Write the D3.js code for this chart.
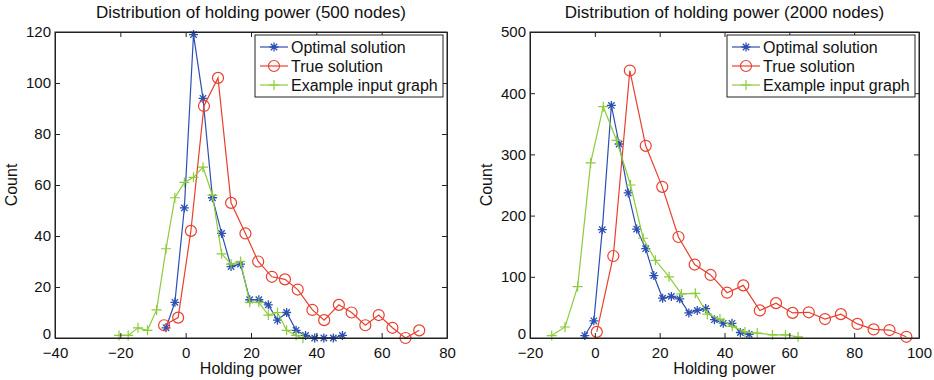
<!DOCTYPE html>
<html>
<head>
<meta charset="utf-8">
<script src="https://cdn.jsdelivr.net/npm/d3@7"></script>
<style>
  body { margin: 0; background: #fff; }
  svg { font-family: "Liberation Sans", Arial, sans-serif; }
</style>
</head>
<body>
<div id="chart"></div>
<script>
// Left panel (500 nodes)
const optX500 = [-6.0, -3.3, -0.4, 2.4, 5.3, 8.2, 11.0, 13.9, 16.8, 19.6, 22.4, 25.3, 28.1, 30.9, 33.8, 36.7, 39.5, 42.3, 45.2, 48.0];
const optY500 = [4, 14, 51, 119, 94, 55, 41, 28, 29, 15, 15, 13, 7, 10, 3, 1, 0, 0, 0, 1];
const trueX500 = [-6.6, -2.3, 1.6, 5.6, 9.9, 13.9, 18.3, 22.2, 26.4, 30.4, 34.3, 38.8, 42.4, 46.9, 50.8, 55.0, 59.1, 63.3, 67.3, 71.5];
const trueY500 = [5, 8, 42, 91, 102, 53, 41, 30, 24, 23, 19, 11, 7, 13, 10, 5, 9, 4, 0, 3];
const exX500 = [-20.4, -17.6, -14.6, -11.7, -8.9, -6.0, -3.3, -0.4, 2.4, 5.3, 8.2, 11.0, 13.9, 16.8, 19.6, 22.4, 25.3, 28.1, 30.9, 33.8, 35.9];
const exY500 = [1, 1, 4, 3, 11, 35, 55, 61, 63, 67, 56, 33, 29, 30, 14, 14, 9, 10, 3, 1, 0];

// Right panel (2000 nodes)
const optX2000 = [-3.1, -0.3, 2.3, 5.1, 7.5, 10.3, 12.9, 15.7, 18.2, 20.9, 23.6, 26.2, 29.0, 31.6, 34.2, 36.9, 39.6, 42.3, 44.9, 47.6];
const optY2000 = [4, 28, 177, 380, 317, 237, 178, 146, 102, 65, 68, 64, 41, 45, 48, 30, 24, 24, 9, 6];
const trueX2000 = [0.6, 5.7, 10.8, 15.7, 20.8, 25.8, 30.8, 35.7, 40.8, 45.8, 50.9, 55.9, 61.0, 66.0, 71.0, 75.9, 81.0, 86.0, 90.9, 96.1];
const trueY2000 = [10, 134, 437, 314, 247, 165, 120, 103, 74, 86, 45, 57, 41, 42, 31, 39, 23, 14, 13, 2];
const exX2000 = [-13.3, -9.2, -5.3, -1.3, 2.6, 6.7, 11.0, 14.9, 18.7, 22.9, 26.7, 31.0, 34.7, 38.6, 42.4, 46.3, 50.1, 54.8, 58.8, 62.7];
const exY2000 = [4, 18, 84, 286, 378, 323, 250, 163, 127, 100, 72, 73, 39, 31, 19, 10, 8, 5, 5, 2];

const seriesNames = ["Optimal solution", "True solution", "Example input graph"];
const seriesColors = ["#2c4fb3", "#e8402f", "#8ccc3a"];
const seriesMarkers = ["star", "circle", "plus"];

const panels = [
  { title: "Distribution of holding power (500 nodes)", left: 55, right: 447,
    xDomain: [-40, 80], xTicks: [-40, -20, 0, 20, 40, 60, 80],
    yDomain: [0, 120], yTicks: [0, 20, 40, 60, 80, 100, 120],
    series: [[optX500, optY500], [trueX500, trueY500], [exX500, exY500]] },
  { title: "Distribution of holding power (2000 nodes)", left: 530, right: 919,
    xDomain: [-20, 100], xTicks: [-20, 0, 20, 40, 60, 80, 100],
    yDomain: [0, 500], yTicks: [0, 100, 200, 300, 400, 500],
    series: [[optX2000, optY2000], [trueX2000, trueY2000], [exX2000, exY2000]] }
];

const W = 934, H = 380;
const plotTop = 32, plotBottom = 338;
const tickFont = 15, labelFont = 16, titleFont = 17;

const svg = d3.select("#chart").append("svg")
  .attr("width", W).attr("height", H);

function drawMarker(g, type, x, y, color) {
  if (type === "circle") {
    g.append("circle").attr("cx", x).attr("cy", y).attr("r", 5.5)
      .attr("fill", "none").attr("stroke", color).attr("stroke-width", 1.2);
  } else if (type === "plus") {
    g.append("path").attr("d", `M${x - 5},${y}H${x + 5}M${x},${y - 5}V${y + 5}`)
      .attr("stroke", color).attr("stroke-width", 1.2);
  } else {
    const s = 4.5, d = 3.2;
    g.append("path")
      .attr("d", `M${x - s},${y}H${x + s}M${x},${y - s}V${y + s}M${x - d},${y - d}L${x + d},${y + d}M${x - d},${y + d}L${x + d},${y - d}`)
      .attr("stroke", color).attr("stroke-width", 1.3);
  }
}

panels.forEach((p) => {
  const x = d3.scaleLinear().domain(p.xDomain).range([p.left, p.right]);
  const y = d3.scaleLinear().domain(p.yDomain).range([plotBottom, plotTop]);
  const g = svg.append("g");

  // data lines and markers
  p.series.forEach(([xs, ys], i) => {
    const pts = xs.map((v, k) => [v, ys[k]]);
    const line = d3.line().x((d) => x(d[0])).y((d) => y(d[1]));
    g.append("path").datum(pts)
      .attr("fill", "none").attr("stroke", seriesColors[i]).attr("stroke-width", 1.2)
      .attr("d", line);
    pts.forEach((d) => drawMarker(g, seriesMarkers[i], x(d[0]), y(d[1]), seriesColors[i]));
  });

  // axes (MATLAB style: inward ticks on all sides)
  const ax = g.append("g");
  ax.append("g").attr("transform", `translate(0,${plotBottom})`)
    .call(d3.axisBottom(x).tickValues(p.xTicks).tickSizeInner(-5).tickSizeOuter(0).tickPadding(9)
      .tickFormat((d) => d < 0 ? "\u2212" + Math.abs(d) : d));
  ax.append("g").attr("transform", `translate(0,${plotTop})`)
    .call(d3.axisTop(x).tickValues(p.xTicks).tickSizeInner(-5).tickSizeOuter(0).tickFormat(""));
  const yAx = ax.append("g").attr("transform", `translate(${p.left},0)`)
    .call(d3.axisLeft(y).tickValues(p.yTicks).tickSizeInner(-5).tickSizeOuter(0).tickPadding(4));
  // lift the "0" label so it clears the x tick labels
  yAx.selectAll(".tick text").filter((d) => d === 0).attr("dy", "0.05em");
  ax.append("g").attr("transform", `translate(${p.right},0)`)
    .call(d3.axisRight(y).tickValues(p.yTicks).tickSizeInner(-5).tickSizeOuter(0).tickFormat(""));
  ax.selectAll("g").attr("font-size", tickFont).attr("font-family", "Liberation Sans, Arial, sans-serif");
  ax.selectAll("text").attr("fill", "#111");
  ax.selectAll("path, line").attr("stroke", "#222");

  g.append("rect").attr("x", p.left).attr("y", plotTop)
    .attr("width", p.right - p.left).attr("height", plotBottom - plotTop)
    .attr("fill", "none").attr("stroke", "#222").attr("stroke-width", 1);

  // title and axis labels
  g.append("text").attr("x", (p.left + p.right) / 2).attr("y", 18)
    .attr("text-anchor", "middle").attr("font-size", titleFont).attr("fill", "#111")
    .text(p.title);
  g.append("text").attr("x", (p.left + p.right) / 2).attr("y", 374)
    .attr("text-anchor", "middle").attr("font-size", labelFont).attr("fill", "#111")
    .text("Holding power");
  g.append("text").attr("transform", `translate(${p.left - 38},${(plotTop + plotBottom) / 2}) rotate(-90)`)
    .attr("text-anchor", "middle").attr("font-size", labelFont).attr("fill", "#111")
    .text("Count");

  // legend
  const lx = p.right - 192, ly = 35;
  const lg = g.append("g");
  lg.append("rect").attr("x", lx).attr("y", ly).attr("width", 188).attr("height", 62)
    .attr("fill", "#fff").attr("stroke", "#222").attr("stroke-width", 1);
  seriesNames.forEach((name, i) => {
    const yy = ly + 12 + i * 19;
    lg.append("line").attr("x1", lx + 5).attr("x2", lx + 33).attr("y1", yy).attr("y2", yy)
      .attr("stroke", seriesColors[i]).attr("stroke-width", 1.2);
    drawMarker(lg, seriesMarkers[i], lx + 19, yy, seriesColors[i]);
    lg.append("text").attr("x", lx + 36).attr("y", yy + 5.5).attr("font-size", labelFont)
      .attr("fill", "#111").text(name);
  });
});
</script>
</body>
</html>
